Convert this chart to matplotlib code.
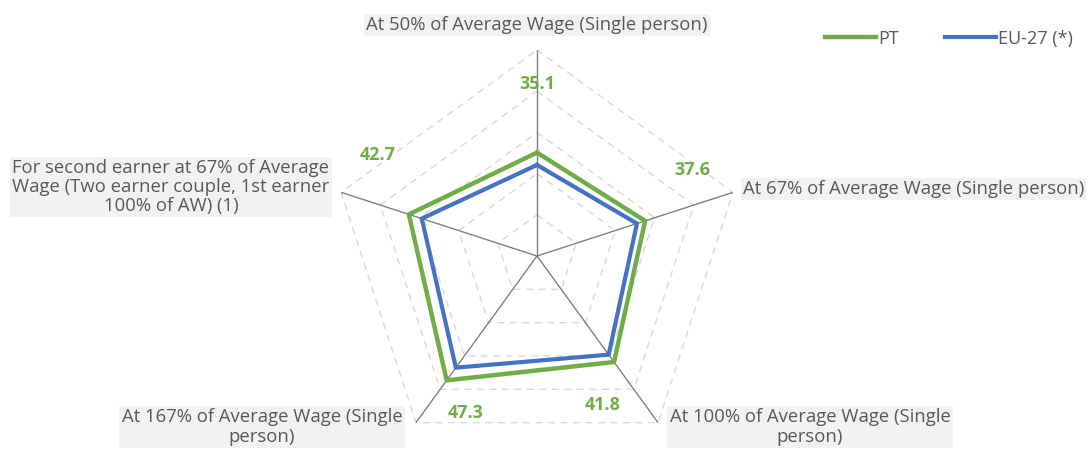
import numpy as np
import matplotlib.pyplot as plt

plt.rcParams['font.family'] = ['Open Sans', 'DejaVu Sans']

categories = [
    'At 50% of Average Wage (Single person)',
    'At 67% of Average Wage (Single person)',
    'At 100% of Average Wage (Single\nperson)',
    'At 167% of Average Wage (Single\nperson)',
    'For second earner at 67% of Average\nWage (Two earner couple, 1st earner\n100% of AW) (1)',
]
pt = [35.1, 37.6, 41.8, 47.3, 42.7]
eu27 = [32.1, 35.5, 39.6, 43.5, 39.4]
rings = [20, 30, 40, 50, 60]

green = '#70ad47'
blue = '#4472c4'
txt = '#595959'

n = len(categories)
theta = np.arange(n) * 2 * np.pi / n
theta_c = np.append(theta, theta[0])

fig = plt.figure(figsize=(10.91, 4.49), dpi=100)
R = 206
cx, cy = 537 / 1091, (449 - 256) / 449
ax = fig.add_axes([cx - R / 1091, cy - R / 449, 2 * R / 1091, 2 * R / 449], projection='polar')
ax.set_theta_offset(np.pi / 2)
ax.set_theta_direction(-1)
ax.set_ylim(10, 60)
ax.set_xticks([])
ax.set_yticks([])
ax.grid(False)
ax.spines['polar'].set_visible(False)

# pentagon gridlines
for r in rings:
    ax.plot(theta_c, [r] * (n + 1), color='#d9d9d9', lw=1, ls=(0, (5, 4)), zorder=1)
for t in theta:
    ax.plot([t, t], [10, 60], color='#808080', lw=1, zorder=2)

ax.plot(theta_c, np.append(pt, pt[0]), color=green, lw=3.2, zorder=4,
        solid_joinstyle='miter', label='PT')
ax.plot(theta_c, np.append(eu27, eu27[0]), color=blue, lw=3.0, zorder=3,
        solid_joinstyle='miter', label='EU-27 (*)')

# data labels
lab_pos = [(0, 51.7), (61.1, 53.2), (156.1, 49.6), (204.3, 51.8), (302.4, 55.7)]
for v, (a, r) in zip(pt, lab_pos):
    ax.text(np.deg2rad(a), r, f'{v:.1f}', color=green, fontsize=13,
            fontweight='bold', ha='center', va='center')

# category labels
box = dict(boxstyle='square,pad=0.12', fc='#f2f2f2', ec='none')
lab_xy = [
    (537, 25, 'center', 'center'),
    (743, 189, 'left', 'center'),
    (810, 427, 'center', 'center'),
    (262, 427, 'center', 'center'),
    (171, 187, 'center', 'center'),
]
for c, (x, y, ha, va) in zip(categories, lab_xy):
    fig.text(x / 1091, 1 - y / 449, c, ha=ha, va=va, fontsize=13.3, color=txt,
             bbox=box, linespacing=1.08, multialignment='center')

fig.legend(loc='upper right', bbox_to_anchor=(0.998, 0.97), ncol=2, frameon=False,
           fontsize=13, handlelength=2.8, handletextpad=0.1, columnspacing=2.6,
           labelcolor=txt)

fig.savefig('out.png', dpi=100)
